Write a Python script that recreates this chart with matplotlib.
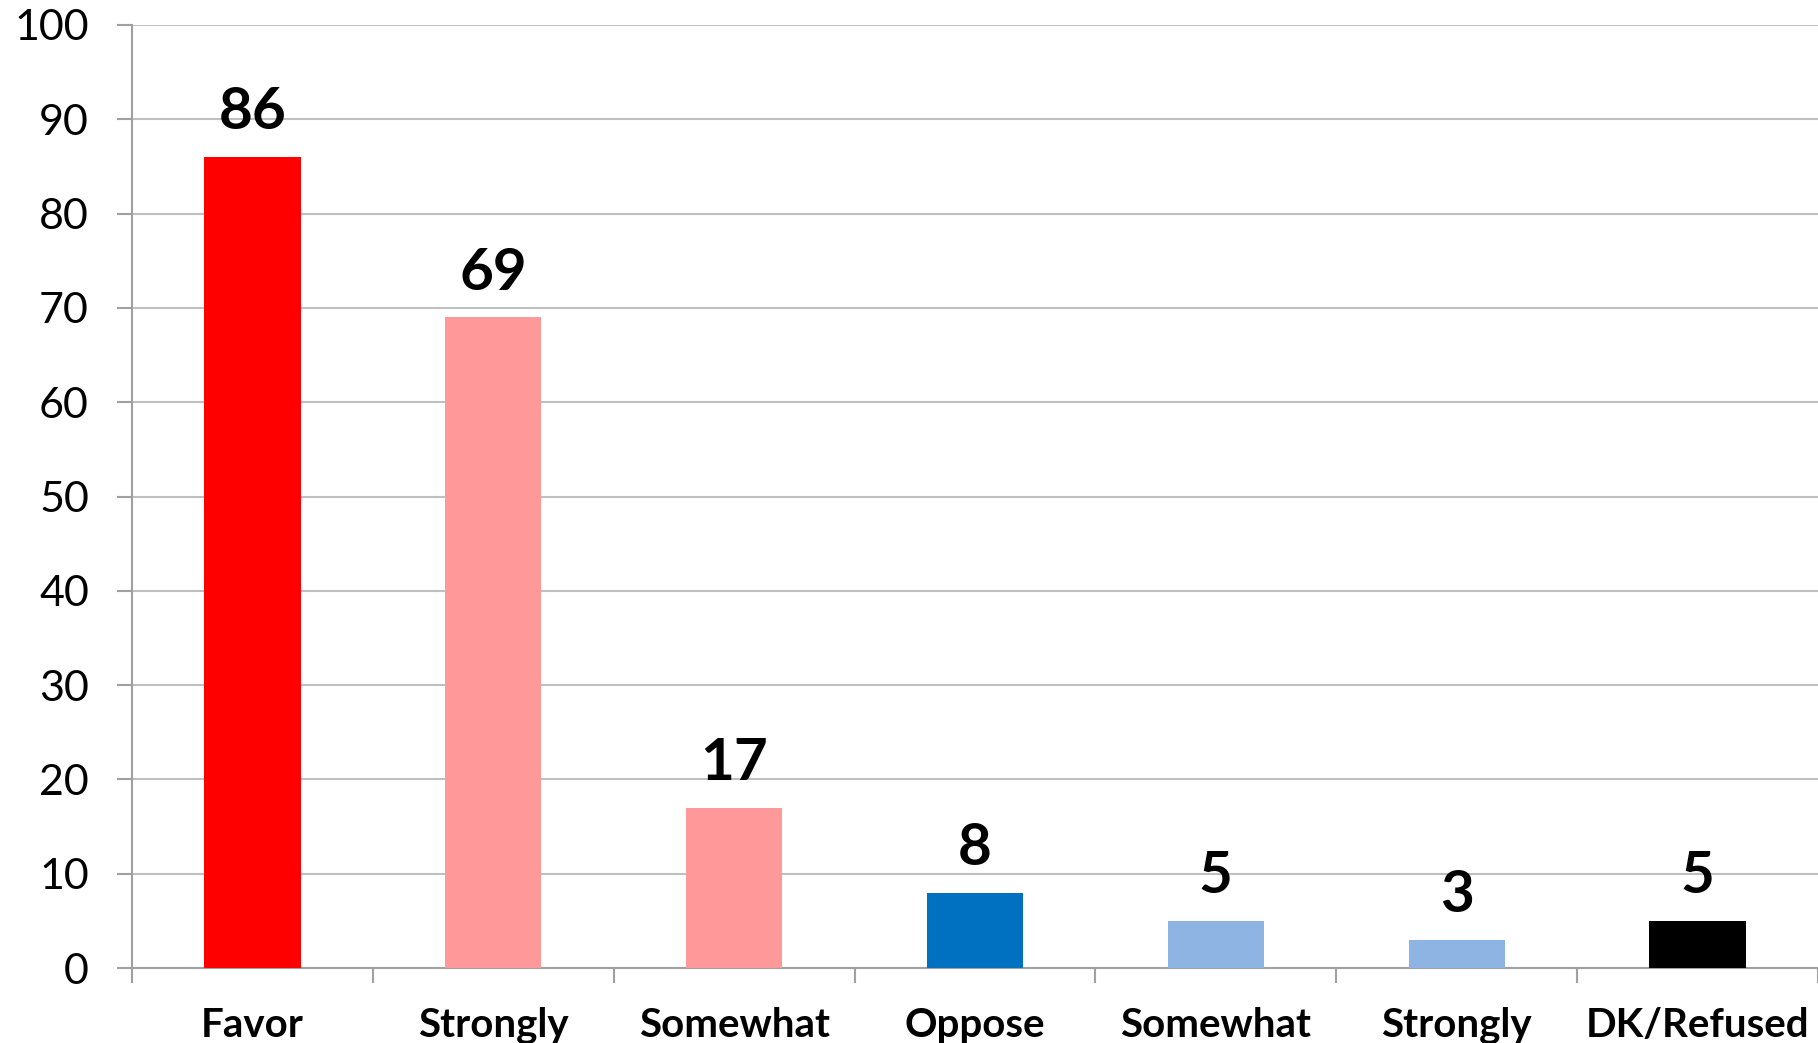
import matplotlib.pyplot as plt

categories = ["Favor", "Strongly", "Somewhat", "Oppose", "Somewhat", "Strongly", "DK/Refused"]
values = [86, 69, 17, 8, 5, 3, 5]
colors = ["#FF0000", "#FF9999", "#FF9999", "#0070C0", "#8EB4E3", "#8EB4E3", "#000000"]

plt.rcParams['font.family'] = ['Lato', 'DejaVu Sans']

fig = plt.figure(figsize=(18.18, 10.43), dpi=100)
ax = fig.add_axes([132 / 1818, 1 - 968 / 1043, 1 - 132 / 1818, (968 - 25) / 1043])

x = list(range(len(categories)))
ax.bar(x, values, width=0.40, color=colors, zorder=3)

for xi, v in zip(x, values):
    ax.annotate(str(v), (xi, v), xytext=(0, 20), textcoords='offset points',
                ha='center', va='baseline', fontsize=42, fontweight='bold')

ax.set_ylim(0, 100)
ax.set_xlim(-0.5, 6.475)
ax.set_yticks(range(0, 101, 10))
ax.set_xticks(x)
ax.set_xticklabels(categories, fontsize=29, fontweight='bold')
ax.set_xticks([i - 0.5 for i in range(len(categories) + 1)], minor=True)
ax.tick_params(axis='x', which='major', length=0, pad=28)
ax.tick_params(axis='x', which='minor', length=11, width=1.5, color='#A0A0A0')
ax.tick_params(axis='y', length=11, width=1.5, color='#A0A0A0', labelsize=31, pad=20)

ax.grid(axis='y', color='#BFBFBF', linewidth=1.5, zorder=0)
for side in ['top', 'right']:
    ax.spines[side].set_visible(False)
for side in ['left', 'bottom']:
    ax.spines[side].set_color('#A0A0A0')
    ax.spines[side].set_linewidth(1.5)

plt.savefig("out.png")
